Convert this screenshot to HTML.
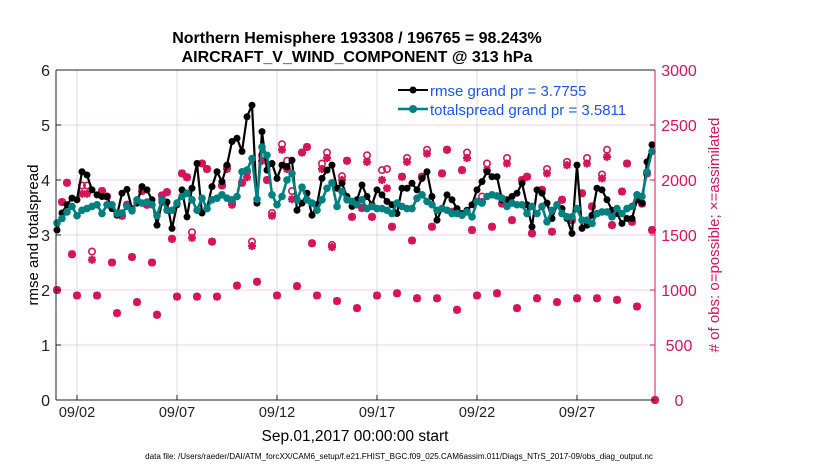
<!DOCTYPE html>
<html><head><meta charset="utf-8"><style>
body{margin:0;background:#fff;}
svg{display:block;font-family:"Liberation Sans",sans-serif;}
</style></head><body>
<svg id="chart" width="830" height="470" viewBox="0 0 830 470">
<rect width="830" height="470" fill="#fff"/>
<g id="grid"></g>
<g id="obs"></g>
<g id="lines"></g>
<g id="axes"></g>
<text x="357" y="43" text-anchor="middle" font-size="16" font-weight="bold">Northern Hemisphere 193308 / 196765 = 98.243%</text>
<text x="357" y="62" text-anchor="middle" font-size="16" font-weight="bold">AIRCRAFT_V_WIND_COMPONENT @ 313 hPa</text>
<text transform="translate(38,235) rotate(-90)" text-anchor="middle" font-size="15">rmse and totalspread</text>
<text transform="translate(719,235) rotate(-90)" text-anchor="middle" font-size="15" fill="#d6145a"># of obs: o=possible; ×=assimilated</text>
<text x="355" y="441" text-anchor="middle" font-size="15.5">Sep.01,2017 00:00:00 start</text>
<text x="399" y="459" text-anchor="middle" font-size="8.1">data file: /Users/raeder/DAI/ATM_forcXX/CAM6_setup/f.e21.FHIST_BGC.f09_025.CAM6assim.011/Diags_NTrS_2017-09/obs_diag_output.nc</text>
<g>
<line x1="398" y1="90" x2="428" y2="90" stroke="#000" stroke-width="2"/><circle cx="413" cy="90" r="3.5" fill="#000"/>
<text x="430" y="96" font-size="15" fill="#1a55f0">rmse grand pr = 3.7755</text>
<line x1="398" y1="109" x2="428" y2="109" stroke="#008080" stroke-width="2.5"/><circle cx="413" cy="109" r="4" fill="#008080"/>
<text x="430" y="115" font-size="15" fill="#1a55f0">totalspread grand pr = 3.5811</text>
</g>
</svg>
<script>
const rmse=[3.09,3.4,3.55,3.67,3.64,4.15,4.09,3.82,3.73,3.7,3.7,3.48,3.36,3.76,3.83,3.48,3.58,3.88,3.82,3.64,3.18,3.6,3.6,3.12,3.55,3.82,3.33,3.85,4.3,3.4,
3.48,3.88,4.15,3.97,4.27,4.7,4.76,4.52,5.15,5.36,3.58,4.88,4.18,4.3,4.03,4.27,4.24,4.36,3.45,3.58,3.76,3.36,3.55,4.03,4.18,4.27,3.85,3.94,3.7,3.52,
3.64,3.91,3.7,3.55,3.82,3.73,3.61,3.55,3.39,3.85,3.85,3.94,3.82,4.03,4.15,3.7,3.27,3.48,3.73,3.64,3.48,3.39,3.45,3.55,3.82,3.97,4.15,4.06,4.06,3.64,
3.64,3.7,3.76,3.94,3.55,3.15,3.82,3.76,3.58,3.3,3.55,3.48,3.3,3.03,4.27,3.12,3.18,3.36,3.85,3.82,3.64,3.45,3.39,3.21,3.3,3.3,3.64,3.58,4.33,4.64];
const spread=[3.22,3.3,3.42,3.52,3.35,3.45,3.48,3.52,3.55,3.39,3.55,3.55,3.39,3.4,3.52,3.44,3.64,3.58,3.6,3.55,3.35,3.64,3.45,3.45,3.58,3.7,3.76,3.64,3.45,3.67,
3.48,3.64,3.67,3.73,3.67,3.64,3.7,4.15,4.18,4.39,3.65,4.6,4.45,3.73,3.55,3.7,4.0,4.12,3.64,3.87,3.64,3.58,3.45,3.64,3.85,3.95,3.52,3.79,3.64,3.61,
3.55,3.64,3.48,3.52,3.48,3.48,3.45,3.39,3.58,3.52,3.48,3.48,3.67,3.73,3.61,3.55,3.45,3.48,3.45,3.39,3.39,3.36,3.42,3.33,3.61,3.58,3.7,3.73,3.71,3.67,
3.52,3.58,3.55,3.55,3.39,3.52,3.39,3.52,3.24,3.45,3.55,3.39,3.33,3.33,3.48,3.27,3.27,3.21,3.39,3.42,3.42,3.33,3.48,3.39,3.48,3.52,3.73,3.7,4.15,4.52];
const obsAssim=[1000,1800,1975,1325,950,1875,1875,1275,950,1900,1850,1250,790,1675,1775,1300,890,1900,1775,1250,775,1860,1890,1465,940,2060,2025,1475,940,2150,2100,1440,
940,1950,2100,1775,1040,1975,2025,1400,1075,2175,2000,1675,950,2275,2100,1825,1035,2250,2300,1425,950,2100,2200,1390,900,2000,2175,1665,835,1745,2165,1665,
950,2000,1925,1575,970,2030,2165,1450,925,2030,2240,1575,925,2060,2275,1710,820,2090,2200,1545,950,1800,2090,1575,970,1785,2150,1635,835,2000,2030,1515,
925,1910,2060,1530,890,1820,2135,1635,925,1880,2150,1760,925,2015,2210,1590,910,1895,2150,1620,850,1785,2060,1545,0];
const obsPossible=[1000,1800,1975,1325,950,1950,1950,1350,950,1900,1850,1250,790,1675,1775,1300,890,1900,1775,1250,775,1860,1890,1465,940,2060,2025,1525,940,2150,2100,1440,
940,1950,2125,1800,1040,1975,2075,1440,1075,2225,2000,1700,950,2325,2175,1900,1035,2250,2300,1425,950,2150,2250,1410,900,2035,2175,1665,835,1745,2225,1665,
950,2090,2100,1575,970,2030,2200,1450,925,2030,2275,1575,925,2060,2275,1710,820,2090,2250,1545,950,1850,2150,1575,970,1785,2200,1635,835,2000,2030,1515,
925,1910,2100,1530,890,1820,2165,1635,925,1880,2200,1760,925,2050,2275,1590,910,1895,2150,1620,850,1785,2060,1545,0];
const leftTicks=[0,1,2,3,4,5,6];
const rightTicks=[0,500,1000,1500,2000,2500,3000];
const dateTickDays=[1,6,11,16,21,26];
const dateTickLabels=["09/02","09/07","09/12","09/17","09/22","09/27"];
const stepDays=0.25;

const X0=57,DAYPX=20,PL=56,PR=655,PT=70,PB=400;
const xDay=d=>X0+d*DAYPX;
const yL=v=>PB-(PB-PT)*v/6;
const yR=n=>PB-(PB-PT)*n/3000;
const NS='http://www.w3.org/2000/svg';
function mk(tag,attrs,parent){const e=document.createElementNS(NS,tag);for(const k in attrs)e.setAttribute(k,attrs[k]);parent.appendChild(e);return e;}
const grid=document.getElementById('grid'),axes=document.getElementById('axes'),obs=document.getElementById('obs'),lines=document.getElementById('lines');
const MAG='#d6145a';
leftTicks.forEach(v=>{
  if(v>0&&v<6){const g=mk('line',{x1:PL,x2:PR,y1:yL(v),y2:yL(v),stroke:'#f6d0dd','stroke-width':1},grid);
  
  }
  mk('line',{x1:PL,x2:PL+5,y1:yL(v),y2:yL(v),stroke:'#222'},axes);
  const t=mk('text',{x:PL-6,y:yL(v)+6,'text-anchor':'end','font-size':16,fill:'#222'},axes);t.textContent=v;
  
  
});
rightTicks.forEach(n=>{
  mk('line',{x1:PR-5,x2:PR,y1:yR(n),y2:yR(n),stroke:MAG},axes);
  const t=mk('text',{x:679,y:yR(n)+6,'text-anchor':'middle','font-size':16,fill:MAG},axes);t.textContent=n;
  
  
});
dateTickDays.forEach((d,i)=>{
  const x=xDay(d);
  const g=mk('line',{x1:x,x2:x,y1:PT,y2:PB,stroke:'#dcdcdc'},grid);
  
  
  mk('line',{x1:x,x2:x,y1:PB,y2:PB-5,stroke:'#222'},axes);
  const t=mk('text',{x:x,y:417,'text-anchor':'middle','font-size':14.5,fill:'#222'},axes);t.textContent=dateTickLabels[i];
  
  
});
mk('line',{x1:PL,x2:PR,y1:PT,y2:PT,stroke:'#222'},axes);
mk('line',{x1:PL,x2:PR,y1:PB,y2:PB,stroke:'#222'},axes);
mk('line',{x1:PL,x2:PL,y1:PT,y2:PB,stroke:'#222'},axes);
mk('line',{x1:PR,x2:PR,y1:PT,y2:PB,stroke:MAG},axes);

function obsX(i){return Math.min(xDay(i*stepDays),PR);}
obsPossible.forEach((n,i)=>{
  const c=mk('circle',{cx:obsX(i),cy:yR(n),r:3.2,fill:'none',stroke:MAG,'stroke-width':1.6},obs);
  
  
});
obsAssim.forEach((n,i)=>{
  const x=obsX(i),y=yR(n);
  const p=mk('path',{d:`M${x-4} ${y}h8M${x} ${y-4}v8M${x-3} ${y-3}l6 6M${x-3} ${y+3}l6 -6`,stroke:MAG,'stroke-width':2.2,fill:'none'},obs);
  
  
  mk('circle',{cx:x,cy:y,r:2.5,fill:MAG},obs);
});
function series(arr,color,w,r,name){
  const pts=arr.map((v,i)=>[xDay(i*stepDays),yL(v)]);
  const pl=mk('polyline',{points:pts.map(p=>p.join(',')).join(' '),fill:'none',stroke:color,'stroke-width':w,'stroke-linejoin':'round'},lines);
  
  
  pts.forEach(p=>{const c=mk('circle',{cx:p[0],cy:p[1],r:r,fill:color},lines);
    
    });
}
series(rmse,'#000',2.2,3.5,'rmse');
series(spread,'#008080',2.6,3.8,'totalspread');
</script>
</body></html>
